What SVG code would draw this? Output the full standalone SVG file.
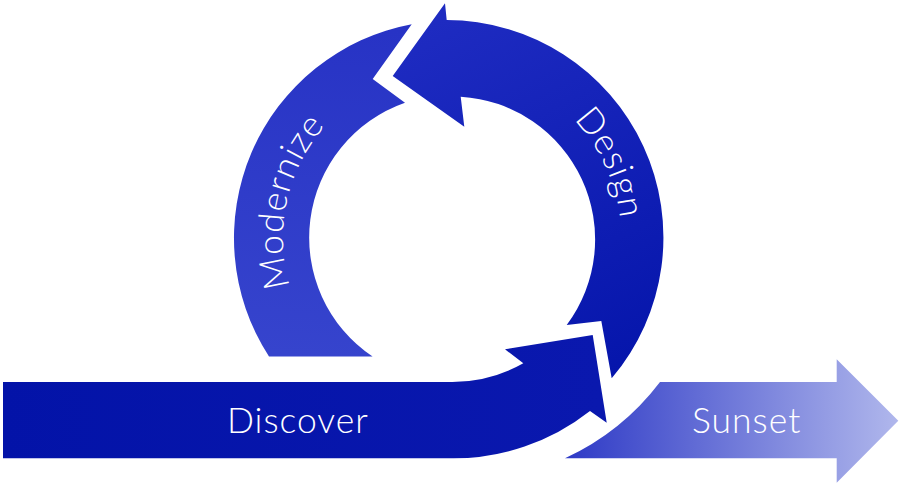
<svg xmlns="http://www.w3.org/2000/svg" width="900" height="487" viewBox="0 0 900 487">
<style>
.lbl{font-family:"Lato","Inter","Liberation Sans",sans-serif;font-weight:300;font-size:35.5px;fill:#ffffff;letter-spacing:1px}
</style>
<defs>
<linearGradient id="gMod" gradientUnits="userSpaceOnUse" x1="330" y1="25" x2="300" y2="356">
<stop offset="0" stop-color="#2733c5"/><stop offset="1" stop-color="#3644cd"/>
</linearGradient>
<linearGradient id="gDes" gradientUnits="userSpaceOnUse" x1="440" y1="20" x2="620" y2="380">
<stop offset="0" stop-color="#1e2bc1"/><stop offset="1" stop-color="#0515ab"/>
</linearGradient>
<linearGradient id="gDis" gradientUnits="userSpaceOnUse" x1="0" y1="0" x2="600" y2="0">
<stop offset="0" stop-color="#0313a8"/><stop offset="1" stop-color="#0a18ae"/>
</linearGradient>
<linearGradient id="gSun" gradientUnits="userSpaceOnUse" x1="565" y1="0" x2="898" y2="0">
<stop offset="0" stop-color="#2e3ac6"/><stop offset="1" stop-color="#b0b7ec"/>
</linearGradient>
<path id="pMod" d="M322.3,345.5 A168,168 0 0 1 380,85.2"/>
<path id="pDes" d="M486.3,71.2 A170,170 0 0 1 601.1,317.3"/>
</defs>
<g id="connectors"></g>
<g id="modernize">
<path fill="url(#gMod)" d="M269,356.5 A217.5,217.5 0 0 1 411.7,24.3 L372.7,79 L405,102.7 A143,143 0 0 0 372.6,356.5 Z"/>
<text class="lbl"><textPath href="#pMod" startOffset="50%" text-anchor="middle">Modernize</textPath></text>
</g>
<g id="design">
<path fill="url(#gDes)" d="M392.7,76 L445,3.3 L446.7,20 A217.5,217.5 0 0 1 611.7,378.3 L601.3,321 L566.7,325 A143,143 0 0 0 460.7,96.7 L464.3,126.7 Z"/>
<text class="lbl"><textPath href="#pDes" startOffset="50%" text-anchor="middle">Design</textPath></text>
</g>
<g id="discover">
<path fill="url(#gDis)" d="M3,382 H451 A144.5,144.5 0 0 0 523.3,363.3 L505,349.3 L592.7,335 L606.7,422.7 L590,411 A220.5,220.5 0 0 1 451,458.3 H3 Z"/>
<text class="lbl" x="227" y="433">Discover</text>
</g>
<g id="sunset">
<path fill="url(#gSun)" d="M565,458.3 A252,252 0 0 0 660,382 H836.7 V359.3 L898.3,420.7 L836.7,482.7 V458.3 Z"/>
<text class="lbl" x="692" y="433">Sunset</text>
</g>
</svg>
